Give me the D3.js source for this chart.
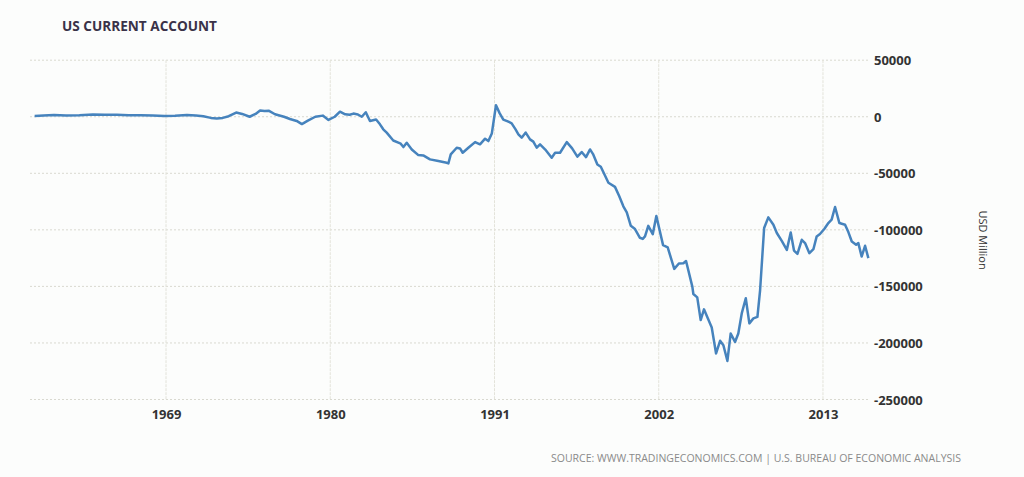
<!DOCTYPE html>
<html>
<head>
<meta charset="utf-8">
<script src="https://cdn.jsdelivr.net/npm/d3@7"></script>
<style>
  html, body { margin: 0; padding: 0; background: #fcfdfc; }
  svg { display: block; }
</style>
</head>
<body>
<svg id="chart" width="1024" height="477"></svg>
<script>
// ---- data (decimal year, USD million) ----
const years = [
  1960.2, 1960.8, 1961.5, 1962.3, 1963.2, 1964.1, 1964.9, 1965.7, 1966.5, 1967.3,
  1968.1, 1968.9, 1969.6, 1970.4, 1971.0, 1971.5, 1972.0, 1972.4, 1972.8, 1973.2,
  1973.7, 1974.1, 1974.6, 1975.0, 1975.3, 1975.6, 1975.9, 1976.3, 1976.9, 1977.3,
  1977.75, 1978.1, 1978.5, 1979.0, 1979.5, 1979.88, 1980.3, 1980.65, 1981.0, 1981.3,
  1981.55, 1981.85, 1982.11, 1982.38, 1982.66, 1983.07, 1983.33, 1983.55, 1983.78, 1984.22,
  1984.56, 1984.72, 1984.9, 1985.12, 1985.46, 1985.9, 1986.23, 1986.68, 1987.24, 1987.8,
  1987.91, 1988.07, 1988.47, 1988.69, 1988.87, 1989.25, 1989.7, 1990.03, 1990.37, 1990.59,
  1990.82, 1991.1, 1991.35, 1991.59, 1991.93, 1992.15, 1992.4, 1992.6, 1992.82, 1993.09,
  1993.38, 1993.6, 1993.83, 1994.05, 1994.4, 1994.83, 1995.06, 1995.39, 1995.84, 1996.2,
  1996.55, 1996.84, 1997.13, 1997.4, 1997.6, 1997.89, 1998.12, 1998.4, 1998.63, 1999.07,
  1999.35, 1999.63, 1999.86, 2000.13, 2000.41, 2000.74, 2000.93, 2001.08, 2001.3, 2001.6,
  2001.84, 2002.29, 2002.6, 2003.04, 2003.35, 2003.65, 2003.83, 2004.25, 2004.32, 2004.58,
  2004.81, 2005.03, 2005.55, 2005.84, 2006.11, 2006.33, 2006.6, 2006.82, 2007.11, 2007.33,
  2007.56, 2007.83, 2008.07, 2008.34, 2008.61, 2008.79, 2009.06, 2009.34, 2009.68, 2009.91,
  2010.25, 2010.58, 2010.84, 2011.06, 2011.29, 2011.58, 2011.8, 2012.09, 2012.36, 2012.58,
  2012.8, 2013.1, 2013.36, 2013.58, 2013.81, 2014.1, 2014.48, 2014.7, 2014.93, 2015.22,
  2015.37, 2015.59, 2015.82, 2016.04
];
const values = [
  700, 1000, 1500, 1200, 1300, 2000, 1800, 1700, 1300, 1400,
  1000, 700, 800, 1500, 1200, 500, -1000, -1500, -1000, 500,
  3700, 2500, 0, 2500, 5600, 5000, 5200, 2200, 0, -2000,
  -3700, -6500, -3500, 0, 1000, -2800, 0, 4500, 2200, 1800,
  2800, 2000, 0, 4000, -3700, -2500, -6700, -11100, -14000, -21000,
  -22900, -23800, -26800, -23000, -28900, -33900, -34200, -37700, -39200, -40700,
  -41300, -33300, -27400, -28000, -31800, -27400, -22400, -24400, -19400, -21500,
  -14900, 10200, 3000, -2500, -4300, -5800, -11000, -15500, -18500, -14000,
  -20000, -22000, -27400, -24400, -29000, -36200, -31800, -31800, -22400, -28000,
  -35300, -31200, -35700, -28900, -33000, -42200, -44200, -52000, -58400, -62000,
  -70000, -79200, -84500, -96400, -99300, -107000, -108000, -105800, -96500, -103800,
  -87800, -113500, -115500, -134500, -129800, -129500, -127500, -150200, -156700, -159700,
  -179800, -170300, -186300, -209300, -198100, -202000, -215900, -191600, -199100, -191600,
  -173900, -160500, -182700, -178300, -176900, -153200, -98400, -89000, -95500, -102800,
  -110000, -117700, -102300, -118300, -121200, -108800, -111700, -120600, -117100, -105800,
  -103700, -99000, -94000, -91000, -79800, -94000, -95500, -102000, -110300, -113200,
  -111700, -123600, -114100, -125000
];
const xTicks = [1969, 1980, 1991, 2002, 2013];
const yTicks = [50000, 0, -50000, -100000, -150000, -200000, -250000];

const titleText = "US CURRENT ACCOUNT";
const unitText = "USD Million";
const sourceText = "SOURCE: WWW.TRADINGECONOMICS.COM | U.S. BUREAU OF ECONOMIC ANALYSIS";

// ---- drawing ----
(function () {
const svg = d3.select("#chart");
const padL = 30, padR = 870, padT = 60.2, padB = 399.5;

const x = d3.scaleLinear().domain([1959.89, 2016.15]).range([padL, padR]);
const y = d3.scaleLinear().domain([-250000, 50000]).range([padB, padT]);

svg.append("rect").attr("width", 1024).attr("height", 477).attr("fill", "#fcfdfc");

// horizontal grid
svg.append("g")
  .selectAll("line").data(yTicks).join("line")
  .attr("x1", padL).attr("x2", padR)
  .attr("y1", d => y(d)).attr("y2", d => y(d))
  .attr("stroke", "#d9d9d0").attr("stroke-width", 1)
  .attr("stroke-dasharray", "2,2");

// vertical grid
svg.append("g")
  .selectAll("line").data(xTicks).join("line")
  .attr("x1", d => x(d)).attr("x2", d => x(d))
  .attr("y1", padT).attr("y2", padB)
  .attr("stroke", "#e3e3da").attr("stroke-width", 1)
  .attr("stroke-dasharray", "3,1");

// y axis labels (right side)
const yAxis = d3.axisRight(y).tickValues(yTicks).tickSize(0).tickPadding(0)
  .tickFormat(d3.format("d"));
const gy = svg.append("g").attr("transform", "translate(874,0)").call(yAxis);
gy.select(".domain").remove();
gy.selectAll("text")
  .attr("font-family", "'Open Sans', sans-serif")
  .attr("font-weight", 700).attr("font-size", 13).attr("fill", "#333")
  .attr("text-anchor", "start").attr("dy", "0.35em")
  .text(d => String(d));

// x axis labels
const xAxis = d3.axisBottom(x).tickValues(xTicks).tickSize(0).tickPadding(0)
  .tickFormat(d3.format("d"));
const gx = svg.append("g").attr("transform", "translate(0,410)").call(xAxis);
gx.select(".domain").remove();
gx.selectAll("text")
  .attr("font-family", "'Open Sans', sans-serif")
  .attr("font-weight", 700).attr("font-size", 13).attr("fill", "#333")
  .attr("dy", "0.71em");

// line
const data = years.map((t, i) => ({ t, v: values[i] }));
const line = d3.line().x(d => x(d.t)).y(d => y(d.v));
svg.append("path").datum(data)
  .attr("d", line)
  .attr("fill", "none")
  .attr("stroke", "#4683bd")
  .attr("stroke-width", 2.5)
  .attr("stroke-linejoin", "round");

// title
svg.append("text")
  .attr("x", 62).attr("y", 31)
  .attr("font-family", "'Open Sans', sans-serif")
  .attr("font-weight", 700).attr("font-size", 14).attr("fill", "#3a3248")
  .attr("textLength", 155).attr("lengthAdjust", "spacingAndGlyphs")
  .text(titleText);

// unit label (rotated)
svg.append("text")
  .attr("transform", "translate(979,240) rotate(90)")
  .attr("text-anchor", "middle")
  .attr("font-family", "'Open Sans', sans-serif")
  .attr("font-size", 11).attr("fill", "#333")
  .text(unitText);

// source
svg.append("text")
  .attr("x", 551).attr("y", 462)
  .attr("font-family", "'Open Sans', sans-serif")
  .attr("font-size", 10).attr("fill", "#8a8a8a")
  .attr("textLength", 410).attr("lengthAdjust", "spacingAndGlyphs")
  .text(sourceText);
})();
</script>
</body>
</html>
